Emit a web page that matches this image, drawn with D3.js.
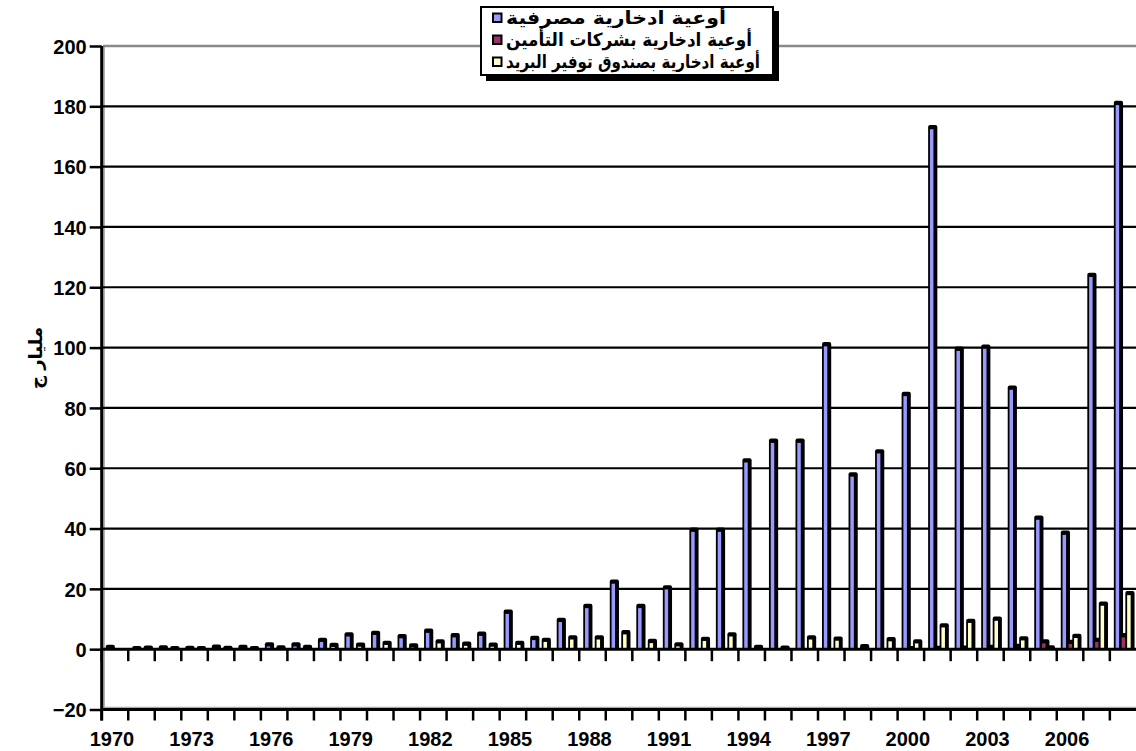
<!DOCTYPE html>
<html>
<head>
<meta charset="utf-8">
<script src="https://cdn.jsdelivr.net/npm/d3@7"></script>
<style>
  html, body { margin: 0; padding: 0; background: #fff; }
  svg { display: block; }
</style>
</head>
<body>
<svg id="chart" width="1136" height="751"></svg>
<script>
// ---------- data ----------
const years = [1970,1971,1972,1973,1974,1975,1976,1977,1978,1979,
               1980,1981,1982,1983,1984,1985,1986,1987,1988,1989,
               1990,1991,1992,1993,1994,1995,1996,1997,1998,1999,
               2000,2001,2002,2003,2004,2005,2006,2007,2008];
const bankSavings = [0.6,0.2,0.5,0.3,0.7,0.6,1.5,1.5,3,4.8,
                     5.3,4.2,6,4.5,5,12.3,3.6,9.6,14.2,22.3,
                     14.2,20.4,39.5,39.5,62.5,69,69,101,57.8,65.5,
                     84.5,173,99.5,100.2,86.6,43.5,38.5,124,181];
const insuranceSavings = [0,0,0,0,0,0,0,0,0,0,
                          0,0,0,0,0,0,0,0,0,0,
                          0,0,0,0,0,0,0,0,0,0,
                          0.2,0.3,0.4,0.6,1,2.5,2.3,3,4.5];
const postalSavings = [0,0.4,0.2,0.2,0.3,0.2,0.5,0.6,1.3,1.4,
                       2,1.1,2.5,1.7,1.4,2,3,3.8,3.8,5.5,
                       2.6,1.5,3.3,4.8,0.6,0.4,3.8,3.4,0.9,3.2,
                       2.5,7.8,9.3,10,3.5,0.5,4.3,15,18.5];
const seriesNames = ["أوعية ادخارية مصرفية",
                     "أوعية ادخارية بشركات التأمين",
                     "أوعية ادخارية بصندوق توفير البريد"];
const seriesColors = ["#9999FF", "#993366", "#FFFFCC"];
const yTicks = [-20,0,20,40,60,80,100,120,140,160,180,200];
const xTickLabels = ["1970","1973","1976","1979","1982","1985","1988","1991","1994","1997","2000","2003","2006"];
const yTitle = "مليار ج";

// ---------- layout ----------
const svg = d3.select("#chart");
const plotLeft = 101.7, bandW = 26.53;
const x = d3.scaleBand().domain(years).range([plotLeft, plotLeft + bandW * years.length]).paddingInner(0).paddingOuter(0);
const y = d3.scaleLinear().domain([-20, 200]).range([709.5, 46]);
const rightEdge = 1140;

// back wall left edge (grey)
svg.append("line").attr("x1", 104).attr("x2", 104).attr("y1", 46).attr("y2", 708)
  .attr("stroke", "#999").attr("stroke-width", 1.5);

// gridlines
yTicks.filter(v => v > 0).forEach(v => {
  svg.append("line")
    .attr("x1", 103).attr("x2", rightEdge)
    .attr("y1", y(v)).attr("y2", y(v))
    .attr("stroke", v === 200 ? "#8a8a8a" : "#000")
    .attr("stroke-width", v === 200 ? 2.5 : 2.2);
});

// floor edge (grey) above bottom axis
svg.append("line").attr("x1", 103).attr("x2", rightEdge).attr("y1", y(-20) - 2).attr("y2", y(-20) - 2)
  .attr("stroke", "#aaa").attr("stroke-width", 1.5);

// bars
const series = [bankSavings, insuranceSavings, postalSavings];
const offsets = [4, 10, 15.5];
const base = y(0);
series.forEach((vals, si) => {
  const g = svg.append("g");
  years.forEach((yr, i) => {
    const v = vals[i];
    if (v <= 0) return;
    const bx = x(yr) + offsets[si];
    const top = y(v);
    g.append("rect")
      .attr("x", bx).attr("y", top - 2.5)
      .attr("width", 9.2).attr("height", base - top + 2.5)
      .attr("rx", 2).attr("fill", "#000");
    const faceTop = top + 1.8;
    if (base - faceTop > 0.5) {
      g.append("rect")
        .attr("x", bx + 1.8).attr("y", faceTop)
        .attr("width", 3.5).attr("height", base - faceTop)
        .attr("fill", seriesColors[si]);
    }
  });
});

// zero axis line with ticks
svg.append("line").attr("x1", plotLeft).attr("x2", rightEdge).attr("y1", base).attr("y2", base)
  .attr("stroke", "#000").attr("stroke-width", 3);
const boundaries = years.map(yr => x(yr));
svg.append("g").selectAll("line").data(boundaries).join("line")
  .attr("x1", d => d).attr("x2", d => d).attr("y1", base).attr("y2", base + 12)
  .attr("stroke", "#000").attr("stroke-width", 2.5);

// bottom axis (-20) with ticks and labels
const yb = y(-20);
svg.append("line").attr("x1", plotLeft).attr("x2", rightEdge).attr("y1", yb).attr("y2", yb)
  .attr("stroke", "#000").attr("stroke-width", 3);
svg.append("g").selectAll("line").data(boundaries).join("line")
  .attr("x1", d => d).attr("x2", d => d).attr("y1", yb).attr("y2", yb + 11)
  .attr("stroke", "#000").attr("stroke-width", 2.5);
svg.append("g").selectAll("text").data(xTickLabels).join("text")
  .attr("x", d => x(+d) + x.bandwidth() / 2 - 3)
  .attr("y", 746)
  .attr("text-anchor", "middle")
  .attr("font-family", "Liberation Sans, Arial, sans-serif")
  .attr("font-weight", "bold").attr("font-size", 20)
  .text(d => d);

// y axis
const yAxis = d3.axisLeft(y).tickValues(yTicks).tickSize(12).tickPadding(3).tickFormat(d3.format("d"));
const ya = svg.append("g").attr("transform", `translate(${plotLeft},0)`).call(yAxis);
ya.select(".domain").attr("stroke", "#000").attr("stroke-width", 3).attr("d", `M0,${y(200)}V${yb + 11}`);
ya.selectAll(".tick line").attr("stroke", "#000").attr("stroke-width", 2.5);
ya.selectAll(".tick text")
  .attr("font-family", "Liberation Sans, Arial, sans-serif")
  .attr("font-weight", "bold").attr("font-size", 20).attr("fill", "#000")
  .attr("dy", "0.36em");

// y title
svg.append("text")
  .attr("transform", "translate(42,358) rotate(-90)")
  .attr("text-anchor", "middle")
  .attr("font-family", "DejaVu Sans, sans-serif")
  .attr("font-weight", "bold").attr("font-size", 18)
  .text(yTitle);

// legend
const lg = svg.append("g");
lg.append("rect").attr("x", 486).attr("y", 11).attr("width", 293).attr("height", 70).attr("fill", "#000");
lg.append("rect").attr("x", 481).attr("y", 7).attr("width", 292).attr("height", 68)
  .attr("fill", "#fff").attr("stroke", "#000").attr("stroke-width", 2);
const rowY = [18, 40, 62];
const rowLen = [220, 246, 254];
seriesNames.forEach((name, i) => {
  lg.append("rect").attr("x", 493).attr("y", rowY[i] - 4.5).attr("width", 8.5).attr("height", 8.5)
    .attr("fill", seriesColors[i]).attr("stroke", "#000").attr("stroke-width", 2);
  lg.append("text").attr("x", 506).attr("y", rowY[i] + 6)
    .attr("font-family", "DejaVu Sans, sans-serif")
    .attr("font-size", 18)
    .attr("font-weight", "bold")
    .attr("text-anchor", "start")
    .attr("textLength", rowLen[i])
    .attr("lengthAdjust", "spacingAndGlyphs")
    .text(name);
});
</script>
</body>
</html>
